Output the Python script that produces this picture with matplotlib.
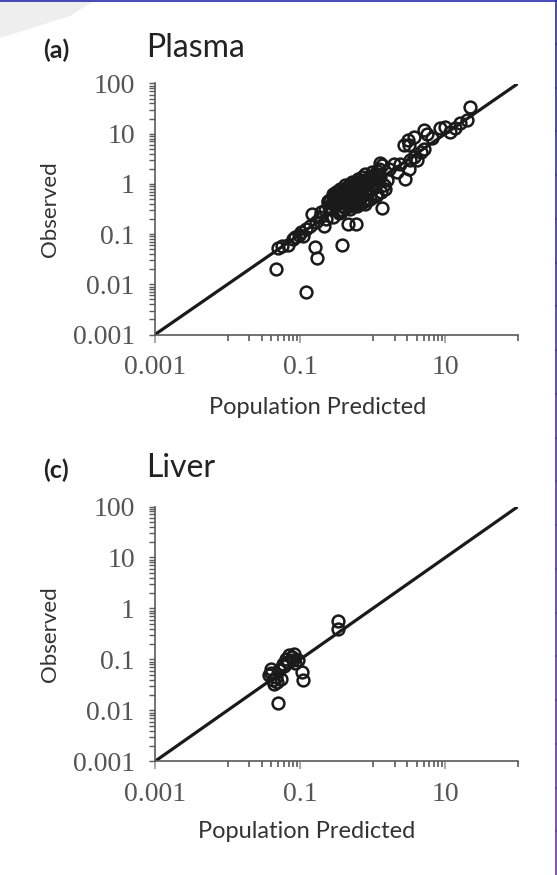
import matplotlib
matplotlib.use("Agg")
import matplotlib.pyplot as plt
from matplotlib.ticker import FixedLocator, NullFormatter, LogLocator
from matplotlib.lines import Line2D
from matplotlib.patches import Polygon

# plasma: population predicted vs observed
plasma_pred = [0.046, 0.12, 0.158, 0.172, 0.38, 0.45, 0.58, 1.36,
               0.049, 0.057, 0.067, 0.079, 0.086, 0.095, 0.103, 0.109, 0.121, 0.135,
               0.145, 0.167, 0.186, 0.196, 0.213, 0.230, 0.242, 0.270, 0.284, 0.30,
               0.316, 0.333, 0.352, 0.371, 0.392, 0.413, 0.435, 0.459, 0.484, 0.511,
               0.538, 0.569, 0.60, 0.632, 0.667, 0.703, 0.741, 0.783, 0.826, 0.871,
               0.918, 0.968, 1.02, 1.08, 1.14, 1.20, 1.26, 1.33, 1.41, 1.48,
               0.25, 0.28, 0.32, 0.36, 0.40, 0.44, 0.50, 0.55, 0.62, 0.70, 0.78, 0.85,
               0.26, 0.31, 0.35, 0.42, 0.47, 0.53, 0.65, 0.74, 0.90, 1.05, 0.34, 0.56,
               0.27, 0.29, 0.33, 0.37, 0.39, 0.43, 0.46, 0.49, 0.52, 0.58, 0.61, 0.66,
               0.72, 0.76, 0.80, 0.88, 0.95, 1.10, 1.22, 0.38, 0.45, 0.57, 0.68, 0.30,
               0.22, 0.24, 0.33, 0.41, 0.48, 0.63, 0.71, 0.82, 0.97, 1.15, 1.30, 1.55,
               0.36, 0.51, 0.59, 0.77, 0.93, 1.12, 0.28, 0.44,
               1.65, 1.94, 2.15, 2.4, 2.81, 3.13, 3.3, 3.67, 4.08, 4.54, 3.2, 5.05, 5.6,
               1.27, 2.7, 3.1, 5.0, 8.5, 10.0, 13.7, 20.0, 22.0, 3.66, 6.5, 11.7, 16.1]
plasma_obs = [0.020, 0.007, 0.056, 0.033, 0.061, 0.16, 0.16, 0.33,
              0.052, 0.058, 0.060, 0.079, 0.086, 0.095, 0.111, 0.090, 0.126, 0.142,
              0.251, 0.171, 0.215, 0.280, 0.147, 0.200, 0.430, 0.316, 0.215, 0.585,
              0.43, 0.293, 0.79, 0.50, 0.369, 0.93, 0.63, 0.43, 0.316, 1.08,
              0.735, 0.50, 0.369, 1.26, 0.857, 0.585, 0.43, 1.58, 1.08, 0.735,
              0.50, 1.71, 1.17, 0.857, 0.63, 2.0, 1.36, 2.33, 0.93, 0.79,
              0.35, 0.55, 0.40, 0.62, 0.45, 0.70, 0.60, 0.85, 0.52, 0.95, 0.66, 1.25,
              0.48, 0.68, 0.52, 0.80, 0.57, 0.90, 0.75, 1.00, 1.10, 1.45, 0.26, 0.40,
              0.42, 0.38, 0.60, 0.55, 0.75, 0.52, 0.82, 0.62, 0.72, 0.98, 0.78, 1.10,
              0.88, 1.20, 0.95, 1.30, 1.15, 1.60, 1.50, 0.30, 0.36, 0.45, 0.55, 0.48,
              0.30, 0.45, 0.72, 0.33, 1.00, 0.40, 1.40, 0.48, 0.80, 1.80, 0.70, 1.20,
              0.28, 0.36, 1.05, 0.40, 1.35, 0.58, 0.62, 0.88,
              2.0, 2.5, 1.71, 2.5, 1.26, 2.0, 2.93, 3.41, 2.93, 4.3, 5.85, 5.0, 10.0,
              2.6, 6.0, 7.5, 11.9, 12.8, 13.8, 12.8, 18.7, 34.5, 8.7, 8.1, 11.0, 16.1]

# liver
liver_pred = [0.33, 0.33, 0.049, 0.107, 0.109,
              0.0395, 0.0375, 0.0417, 0.046, 0.0516, 0.0575, 0.064, 0.071, 0.083,
              0.093, 0.079, 0.0545, 0.044, 0.040, 0.048, 0.060, 0.068, 0.076, 0.086]
liver_obs = [0.56, 0.40, 0.014, 0.057, 0.039,
             0.066, 0.049, 0.039, 0.045, 0.061, 0.083, 0.104, 0.121, 0.130,
             0.096, 0.096, 0.042, 0.0335, 0.055, 0.036, 0.075, 0.090, 0.110, 0.085]

line_x = [0.001, 100]
x_major = [0.001, 0.1, 10]
x_major_labels = ["0.001", "0.1", "10"]
x_minor = [0.01, 1, 100] + [k * 0.01 for k in range(2, 10)] + [k * 1.0 for k in range(2, 10)]
y_major = [0.001, 0.01, 0.1, 1, 10, 100]
y_major_labels = ["0.001", "0.01", "0.1", "1", "10", "100"]

W, H = 557, 875
fig = plt.figure(figsize=(W / 100, H / 100), dpi=100)
fig.patch.set_facecolor("white")

axis_gray = "#5a5a5a"
tick_font = dict(family="Liberation Serif", size=20, color="#555555")
sans = ["Lato", "DejaVu Sans"]


def fx(px):
    return px / W


def fy(py):
    return 1 - py / H


def panel(top, bottom, pred, obs, letter, title, xlab_x, xlab_y, head_y):
    ax = fig.add_axes([fx(155), fy(bottom), fx(518) - fx(155), fy(top) - fy(bottom)])
    ax.set_xscale("log")
    ax.set_yscale("log")
    ax.set_xlim(0.001, 100)
    ax.set_ylim(0.001, 100)
    ax.plot(line_x, line_x, color="#1a1a1a", lw=2.3, solid_capstyle="round", zorder=2)
    ax.plot(pred, obs, "o", ms=8.5, mfc="none", mec="#1a1a1a", mew=1.8, zorder=3)
    for s in ["top", "right"]:
        ax.spines[s].set_visible(False)
    for s in ["left", "bottom"]:
        ax.spines[s].set_color(axis_gray)
        ax.spines[s].set_linewidth(1.2)
    ax.xaxis.set_major_locator(FixedLocator(x_major))
    ax.set_xticklabels(x_major_labels, fontdict=tick_font)
    ax.xaxis.set_minor_locator(FixedLocator(x_minor))
    ax.xaxis.set_minor_formatter(NullFormatter())
    ax.yaxis.set_major_locator(FixedLocator(y_major))
    ax.set_yticklabels(y_major_labels, fontdict=tick_font)
    ax.yaxis.set_minor_locator(LogLocator(base=10, subs=range(2, 10)))
    ax.yaxis.set_minor_formatter(NullFormatter())
    ax.tick_params(axis="x", which="major", length=6, width=1.2, color="#999999", pad=9)
    ax.tick_params(axis="x", which="minor", length=4, width=1.2, color=axis_gray)
    ax.tick_params(axis="y", which="both", length=4.5, width=1.0, color=axis_gray, pad=10)
    fig.text(fx(xlab_x), fy(xlab_y), "Population Predicted", family=sans, fontsize=17,
             color="#333333", ha="center", va="center")
    fig.text(fx(50), fy((top + bottom) / 2), "Observed", family=sans, fontsize=16,
             color="#333333", rotation=90, ha="center", va="center")
    fig.text(fx(56), fy(head_y), letter, family=sans, fontsize=18, fontweight="bold",
             color="#222222", ha="center", va="center")
    fig.text(fx(146), fy(head_y - 2), title, family=sans, fontsize=23, color="#222222",
             ha="left", va="center")
    return ax


panel(83.5, 334.5, plasma_pred, plasma_obs, "(a)", "Plasma", 318, 408, 50)
panel(506.5, 761.3, liver_pred, liver_obs, "(c)", "Liver", 307, 832, 470)

# faint watermark corner and page border
fig.patches.append(Polygon([(0, fy(0)), (fx(95), fy(0)), (fx(70), fy(16)), (0, fy(38))],
                           closed=True, transform=fig.transFigure, facecolor="#eeeeee",
                           edgecolor="none", zorder=0))
fig.lines.append(Line2D([0, 1], [fy(0.8), fy(0.8)], transform=fig.transFigure,
                        color="#2a2ab0", lw=1.2))
n = 20
for i in range(n):
    t = i / n
    c = (0.16 + 0.30 * t, 0.16, 0.69 + 0.12 * t)
    fig.lines.append(Line2D([fx(555.8), fx(555.8)], [fy(H * t), fy(H * (t + 1 / n))],
                            transform=fig.transFigure, color=c, lw=1.2))

fig.savefig("out.png", dpi=100)
